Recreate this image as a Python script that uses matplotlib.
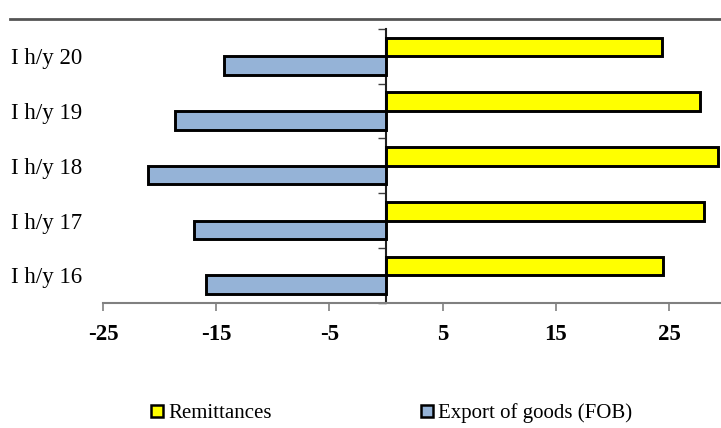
import matplotlib
matplotlib.use("Agg")
import matplotlib.pyplot as plt
from matplotlib.lines import Line2D
import numpy as np

categories = ["I h/y 16", "I h/y 17", "I h/y 18", "I h/y 19", "I h/y 20"]
remittances = [24.5, 28.1, 29.3, 27.7, 24.4]
exports = [-15.9, -17.0, -21.0, -18.6, -14.3]
xticks = [-25, -15, -5, 5, 15, 25]

plt.rcParams['font.family'] = ['Liberation Serif', 'DejaVu Serif']

fig = plt.figure(figsize=(7.21, 4.28), dpi=100)
ax = fig.add_axes([103/721, 1-302.7/428, (720-103)/721, (302.7-29)/428])

y = np.arange(len(categories))
h = 0.34
ax.barh(y + h/2, remittances, height=h, color='#FFFF00', edgecolor='black', linewidth=2.1, label='Remittances', zorder=3)
ax.barh(y - h/2, exports, height=h, color='#95B3D7', edgecolor='black', linewidth=2.1, label='Export of goods (FOB)', zorder=3)

xmin, xmax = -25, 29.5
ax.set_xlim(xmin, xmax)
ax.set_ylim(-0.5, len(categories) - 0.5)

for s in ['top', 'right', 'left']:
    ax.spines[s].set_visible(False)
ax.spines['bottom'].set_color('#808080')
ax.spines['bottom'].set_linewidth(1.5)

ax.set_xticks(xticks)
ax.set_xticklabels([str(t) for t in xticks], fontsize=16.5, fontweight='bold')
ax.tick_params(axis='x', direction='out', length=6, width=1.2, color='#808080', pad=9)

ax.set_yticks(y)
ax.set_yticklabels(categories, fontsize=16.5, va='top')
ax.tick_params(axis='y', length=0, pad=15)
for lab in ax.get_yticklabels():
    lab.set_verticalalignment('center_baseline')

# vertical axis at zero with boundary tick marks
sec = ax.secondary_yaxis((0 - xmin) / (xmax - xmin))
sec.spines['left'].set_color('#202020')
sec.spines['left'].set_linewidth(1.5)
sec.set_yticks(np.arange(-0.5, len(categories), 1.0))
sec.set_yticklabels([])
sec.tick_params(axis='y', direction='out', length=6, width=1.0, color='#404040')

# top rule
fig.add_artist(Line2D([10/721, 1.0], [1-18.5/428, 1-18.5/428], transform=fig.transFigure,
                      color='#555555', linewidth=2.0))

handles = [
    Line2D([], [], linestyle='none', marker='s', markersize=9, markerfacecolor='#FFFF00',
           markeredgecolor='black', markeredgewidth=1.8),
    Line2D([], [], linestyle='none', marker='s', markersize=9, markerfacecolor='#95B3D7',
           markeredgecolor='black', markeredgewidth=1.8),
]
fig.legend(handles, ['Remittances', 'Export of goods (FOB)'], loc='center',
           bbox_to_anchor=(391/721, 1-413/428), ncol=2, frameon=False, fontsize=15,
           handlelength=0.7, handletextpad=0.2, columnspacing=7.1, borderpad=0)

fig.savefig('out.png', dpi=100)
